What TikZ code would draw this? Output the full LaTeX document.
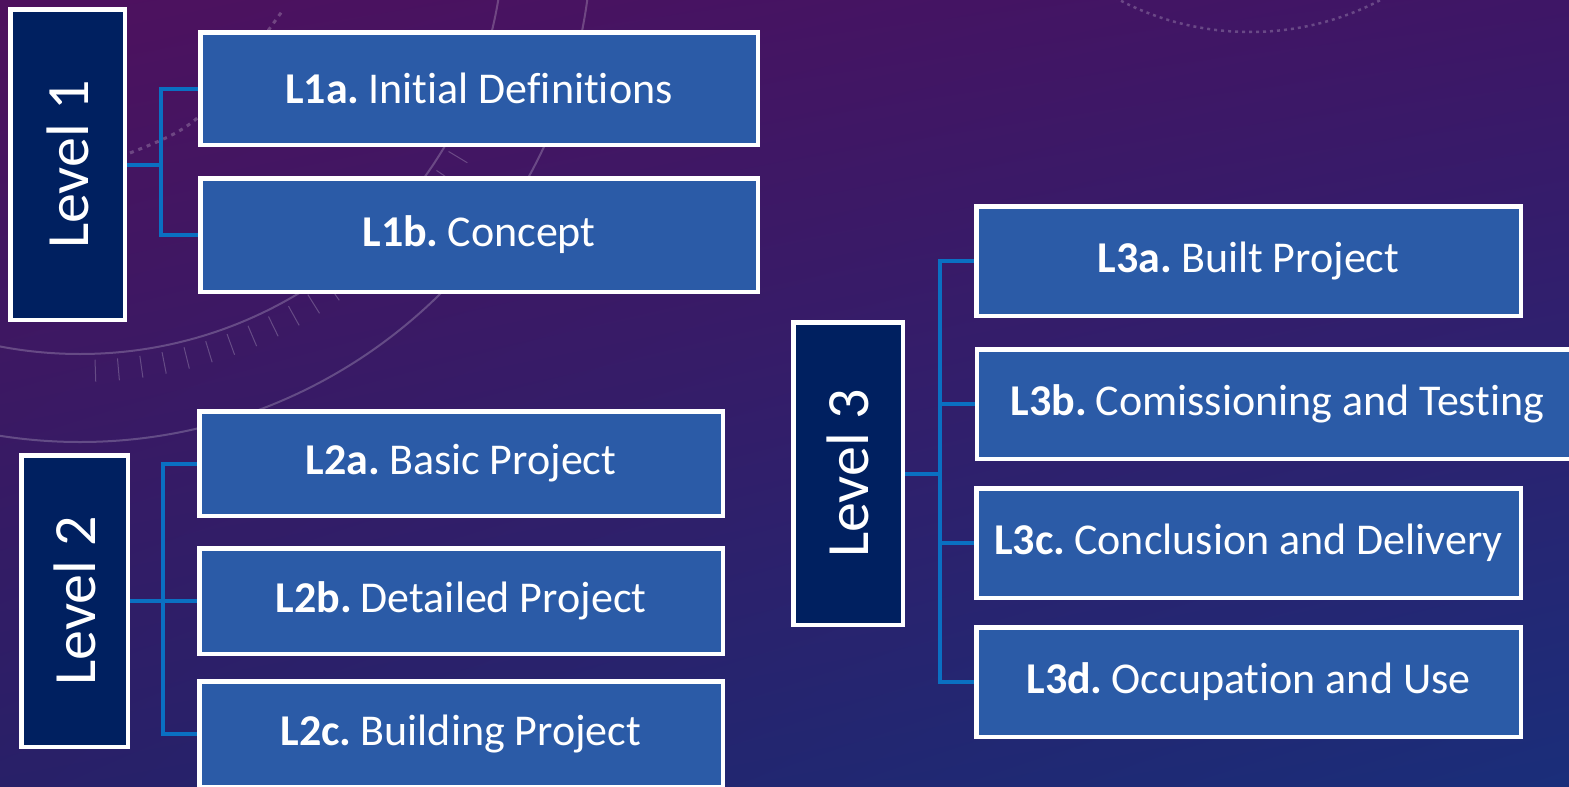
\documentclass[tikz,border=0pt]{standalone}
\usepackage{fontspec}
\setmainfont{Carlito}[Ligatures=NoCommon]
\usetikzlibrary{calc,shadings}
\pgfdeclarelayer{bg}
\pgfdeclarelayer{mid}
\pgfsetlayers{bg,mid,main}
\definecolor{boxblue}{RGB}{43,91,167}
\definecolor{navy}{RGB}{0,32,96}
\definecolor{connblue}{RGB}{10,112,194}
\definecolor{bgUL}{RGB}{78,17,94}
\definecolor{bgUR}{RGB}{62,22,102}
\definecolor{bgLL}{RGB}{40,32,104}
\definecolor{bgLR}{RGB}{26,46,122}
\newcommand{\lbl}[2]{\textbf{#1}\hspace{9pt}#2}
\tikzset{
  stagebox/.style={draw=white, line width=4.5pt, fill=boxblue, inner sep=0pt, outer sep=0pt,
    text=white, font=\fontsize{44}{48}\selectfont, align=center},
  levelbox/.style={draw=white, line width=4.5pt, fill=navy, inner sep=0pt, outer sep=0pt,
    text=white, font=\fontsize{60}{64}\selectfont},
  conn/.style={draw=connblue, line width=4pt},
  deco/.style={draw=white, opacity=0.22, line width=2pt},
  decotick/.style={draw=white, opacity=0.22, line width=1pt}
}
\begin{document}
\begin{tikzpicture}[x=1pt, y=-1pt]
\useasboundingbox (0,0) rectangle (1569,787);
\clip (0,0) rectangle (1569,787);
\begin{pgfonlayer}{bg}
\shade[upper left=bgUL, upper right=bgUR, lower left=bgLL, lower right=bgLR] (0,0) rectangle (1569,787);
\draw[deco] (80,-70) circle[radius=424];
\draw[deco] (80,-70) circle[radius=512];
\foreach \a in {22,25,...,88} {
  \draw[decotick] ($(80,-70)+(\a:430)$) -- ($(80,-70)+(\a:452)$);
}
\draw[deco, dash pattern=on 3pt off 4pt, line width=2.5pt] (1250,-250) circle[radius=282];
\draw[deco, dash pattern=on 4pt off 5pt, line width=3pt] (130,153) .. controls (200,125) .. (283,10);
\end{pgfonlayer}

% level 1
\node[levelbox, minimum width=114.5pt, minimum height=310.5pt] (lev1) at (67.5,164.5) {\rotatebox{90}{Level 1}};
\node[stagebox, minimum width=557.5pt, minimum height=112.5pt] (l1a) at (479,88.5) {\lbl{L1a.}{Initial Definitions}};
\node[stagebox, minimum width=557.5pt, minimum height=113.5pt] (l1b) at (479,235) {\lbl{L1b.}{Concept}};

% level 2
\node[levelbox, minimum width=106.5pt, minimum height=291.5pt] (lev2) at (74.5,601) {\rotatebox{90}{Level 2}};
\node[stagebox, minimum width=523.5pt, minimum height=104.5pt] (l2a) at (461,463.5) {\lbl{L2a.}{Basic Project}};
\node[stagebox, minimum width=523.5pt, minimum height=105.5pt] (l2b) at (461,601) {\lbl{L2b.}{Detailed Project}};
\node[stagebox, minimum width=523.5pt, minimum height=105.5pt] (l2c) at (461,734) {\lbl{L2c.}{Building Project}};

% level 3
\node[levelbox, minimum width=109.5pt, minimum height=302.5pt] (lev3) at (848,473.5) {\rotatebox{90}{Level 3}};
\node[stagebox, minimum width=544.5pt, minimum height=109.5pt] (l3a) at (1248.5,261) {\lbl{L3a.}{Built Project}};
\node[stagebox, minimum width=601.5pt, minimum height=109.5pt] (l3b) at (1277.5,404) {\lbl{L3b.}{Comissioning and Testing}};
\node[stagebox, minimum width=544.5pt, minimum height=109.5pt] (l3c) at (1248.5,543) {\lbl{L3c.}{Conclusion and Delivery}};
\node[stagebox, minimum width=544.5pt, minimum height=109.5pt] (l3d) at (1248.5,682) {\lbl{L3d.}{Occupation and Use}};

% connectors
\coordinate (j1) at (161,164.5);
\coordinate (j2) at (163,601);
\coordinate (j3) at (940,473.5);
\begin{pgfonlayer}{mid}
\draw[conn] (lev1.east) -- (j1);
\draw[conn] (l1a.west) -| (j1) |- (l1b.west);
\draw[conn] (lev2.east) -- (l2b.west);
\draw[conn] (l2a.west) -| (j2) |- (l2c.west);
\draw[conn] (lev3.east) -- (j3);
\draw[conn] (l3a.west) -| (j3) |- (l3d.west);
\draw[conn] (l3b.west) -- (l3b.west -| j3);
\draw[conn] (l3c.west) -- (l3c.west -| j3);
\end{pgfonlayer}
\end{tikzpicture}
\end{document}
